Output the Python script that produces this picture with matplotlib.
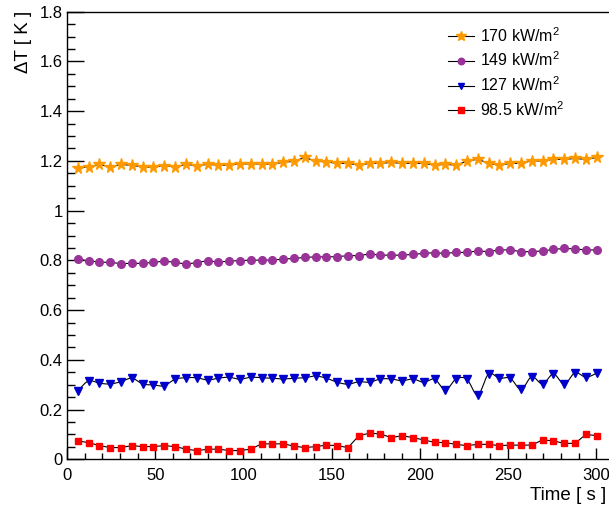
import numpy as np
import matplotlib
matplotlib.use('Agg')
import matplotlib.pyplot as plt
from matplotlib.ticker import MultipleLocator

plt.rcParams['font.family'] = ['Liberation Sans', 'DejaVu Sans']
plt.rcParams['mathtext.fontset'] = 'custom'
plt.rcParams['mathtext.rm'] = 'Liberation Sans'
plt.rcParams['mathtext.it'] = 'Liberation Sans:italic'

time = [6.1, 12.2, 18.4, 24.5, 30.6, 36.8, 42.9, 49.0, 55.1, 61.3, 67.4, 73.5, 79.7,
        85.8, 91.9, 98.0, 104.2, 110.3, 116.4, 122.6, 128.7, 134.8, 140.9, 147.1, 153.2,
        159.3, 165.5, 171.6, 177.7, 183.8, 190.0, 196.1, 202.2, 208.4, 214.5, 220.6, 226.7,
        232.9, 239.0, 245.1, 251.3, 257.4, 263.5, 269.6, 275.8, 281.9, 288.0, 294.2, 300.3]

dt_170 = [1.170, 1.176, 1.186, 1.176, 1.186, 1.182, 1.176, 1.174, 1.181, 1.176, 1.186, 1.181,
          1.186, 1.183, 1.183, 1.188, 1.188, 1.188, 1.186, 1.195, 1.198, 1.214, 1.199, 1.196,
          1.190, 1.190, 1.183, 1.190, 1.190, 1.194, 1.190, 1.190, 1.190, 1.183, 1.186, 1.183,
          1.199, 1.207, 1.190, 1.183, 1.190, 1.190, 1.201, 1.199, 1.207, 1.206, 1.210, 1.206, 1.214]
dt_149 = [0.804, 0.799, 0.793, 0.792, 0.787, 0.788, 0.788, 0.792, 0.797, 0.792, 0.785, 0.791,
          0.799, 0.793, 0.797, 0.799, 0.801, 0.801, 0.801, 0.805, 0.808, 0.812, 0.814, 0.814,
          0.815, 0.819, 0.819, 0.826, 0.821, 0.821, 0.821, 0.824, 0.828, 0.831, 0.828, 0.832,
          0.832, 0.838, 0.835, 0.842, 0.842, 0.835, 0.835, 0.838, 0.844, 0.848, 0.846, 0.842, 0.842]
dt_127 = [0.276, 0.315, 0.306, 0.303, 0.312, 0.326, 0.303, 0.299, 0.296, 0.322, 0.328, 0.328,
          0.319, 0.326, 0.330, 0.322, 0.330, 0.328, 0.326, 0.323, 0.326, 0.328, 0.335, 0.326,
          0.310, 0.302, 0.312, 0.310, 0.323, 0.323, 0.316, 0.323, 0.310, 0.322, 0.279, 0.323,
          0.322, 0.259, 0.343, 0.326, 0.326, 0.281, 0.332, 0.303, 0.343, 0.302, 0.348, 0.330, 0.346]
dt_98 = [0.074, 0.067, 0.055, 0.047, 0.047, 0.055, 0.051, 0.051, 0.055, 0.051, 0.041, 0.035,
         0.040, 0.041, 0.035, 0.035, 0.041, 0.062, 0.062, 0.062, 0.053, 0.047, 0.051, 0.057,
         0.055, 0.047, 0.095, 0.105, 0.102, 0.087, 0.095, 0.087, 0.078, 0.068, 0.067, 0.060,
         0.055, 0.060, 0.060, 0.055, 0.057, 0.057, 0.057, 0.078, 0.074, 0.064, 0.064, 0.100, 0.095]

labels = ['170 kW/m$^{2}$', '149 kW/m$^{2}$', '127 kW/m$^{2}$', '98.5 kW/m$^{2}$']


def smooth(x, y, n=12):
    # catmull-rom curve through the points, like ROOT's "C" draw option
    x = np.asarray(x, float)
    y = np.asarray(y, float)
    px = np.concatenate([[2*x[0]-x[1]], x, [2*x[-1]-x[-2]]])
    py = np.concatenate([[2*y[0]-y[1]], y, [2*y[-1]-y[-2]]])
    t = np.linspace(0, 1, n, endpoint=False)[:, None]
    def cr(p):
        p0, p1, p2, p3 = p[:-3], p[1:-2], p[2:-1], p[3:]
        return 0.5*(2*p1 + (-p0+p2)*t + (2*p0-5*p1+4*p2-p3)*t**2 + (-p0+3*p1-3*p2+p3)*t**3)
    sx = np.append(cr(px).T.ravel(), x[-1])
    sy = np.append(cr(py).T.ravel(), y[-1])
    return sx, sy


fig = plt.figure(figsize=(6.09, 5.08), dpi=100)
ax = fig.add_axes([0.110, 0.0959, 0.895, 0.881])

ax.plot(time, dt_170, '-', color='black', lw=0.8, marker='*', ms=8.5, mfc='#ff9900',
        mec='#ff9900', label=labels[0])
ax.plot(time, dt_149, '-', color='black', lw=0.8, marker='o', ms=5.5, mfc='#993399',
        mec='#993399', label=labels[1])
sx, sy = smooth(time, dt_127)
ax.plot(sx, sy, '-', color='black', lw=0.8)
ax.plot(time, dt_127, ls='none', marker='v', ms=6, mfc='#0000cc', mec='#0000cc')
ax.plot([], [], '-', color='black', lw=0.8, marker='v', ms=5, mfc='#0000cc',
        mec='#0000cc', label=labels[2])
ax.plot(time, dt_98, '-', color='black', lw=0.8, marker='s', ms=5, mfc='#ff0000',
        mec='#ff0000', label=labels[3])

ax.set_xlim(0, 309)
ax.set_ylim(0, 1.8)
ax.xaxis.set_major_locator(MultipleLocator(50))
ax.xaxis.set_minor_locator(MultipleLocator(10))
ax.yaxis.set_major_locator(MultipleLocator(0.2))
ax.yaxis.set_minor_locator(MultipleLocator(0.05))
ax.yaxis.set_major_formatter(plt.FuncFormatter(lambda v, p: ('%g' % round(v, 2))))
ax.tick_params(which='both', direction='in', top=False, right=False, labelsize=12)
ax.tick_params(axis='y', which='major', length=12, width=1, pad=3)
ax.tick_params(axis='y', which='minor', length=6, width=1)
ax.tick_params(axis='x', which='major', length=8, width=1, pad=6)
ax.tick_params(axis='x', which='minor', length=4, width=1)
for s in ['left', 'bottom', 'top']:
    ax.spines[s].set_linewidth(1)
ax.spines['right'].set_visible(False)

ax.legend(loc='upper left', bbox_to_anchor=(448/609, 1-26/508), bbox_transform=fig.transFigure,
          frameon=False, fontsize=11.5, handlelength=1.6, handletextpad=0.4, markerscale=0.85,
          labelspacing=0.38, borderpad=0, borderaxespad=0)

fig.text(606/609, 1-500.5/508, 'Time [ s ]', ha='right', va='baseline', fontsize=13.5)
fig.text(23/609, 1-11/508, '\u0394T [ K ]', ha='center', va='top', rotation=90, fontsize=13.5)

fig.savefig('out.png', dpi=100)
